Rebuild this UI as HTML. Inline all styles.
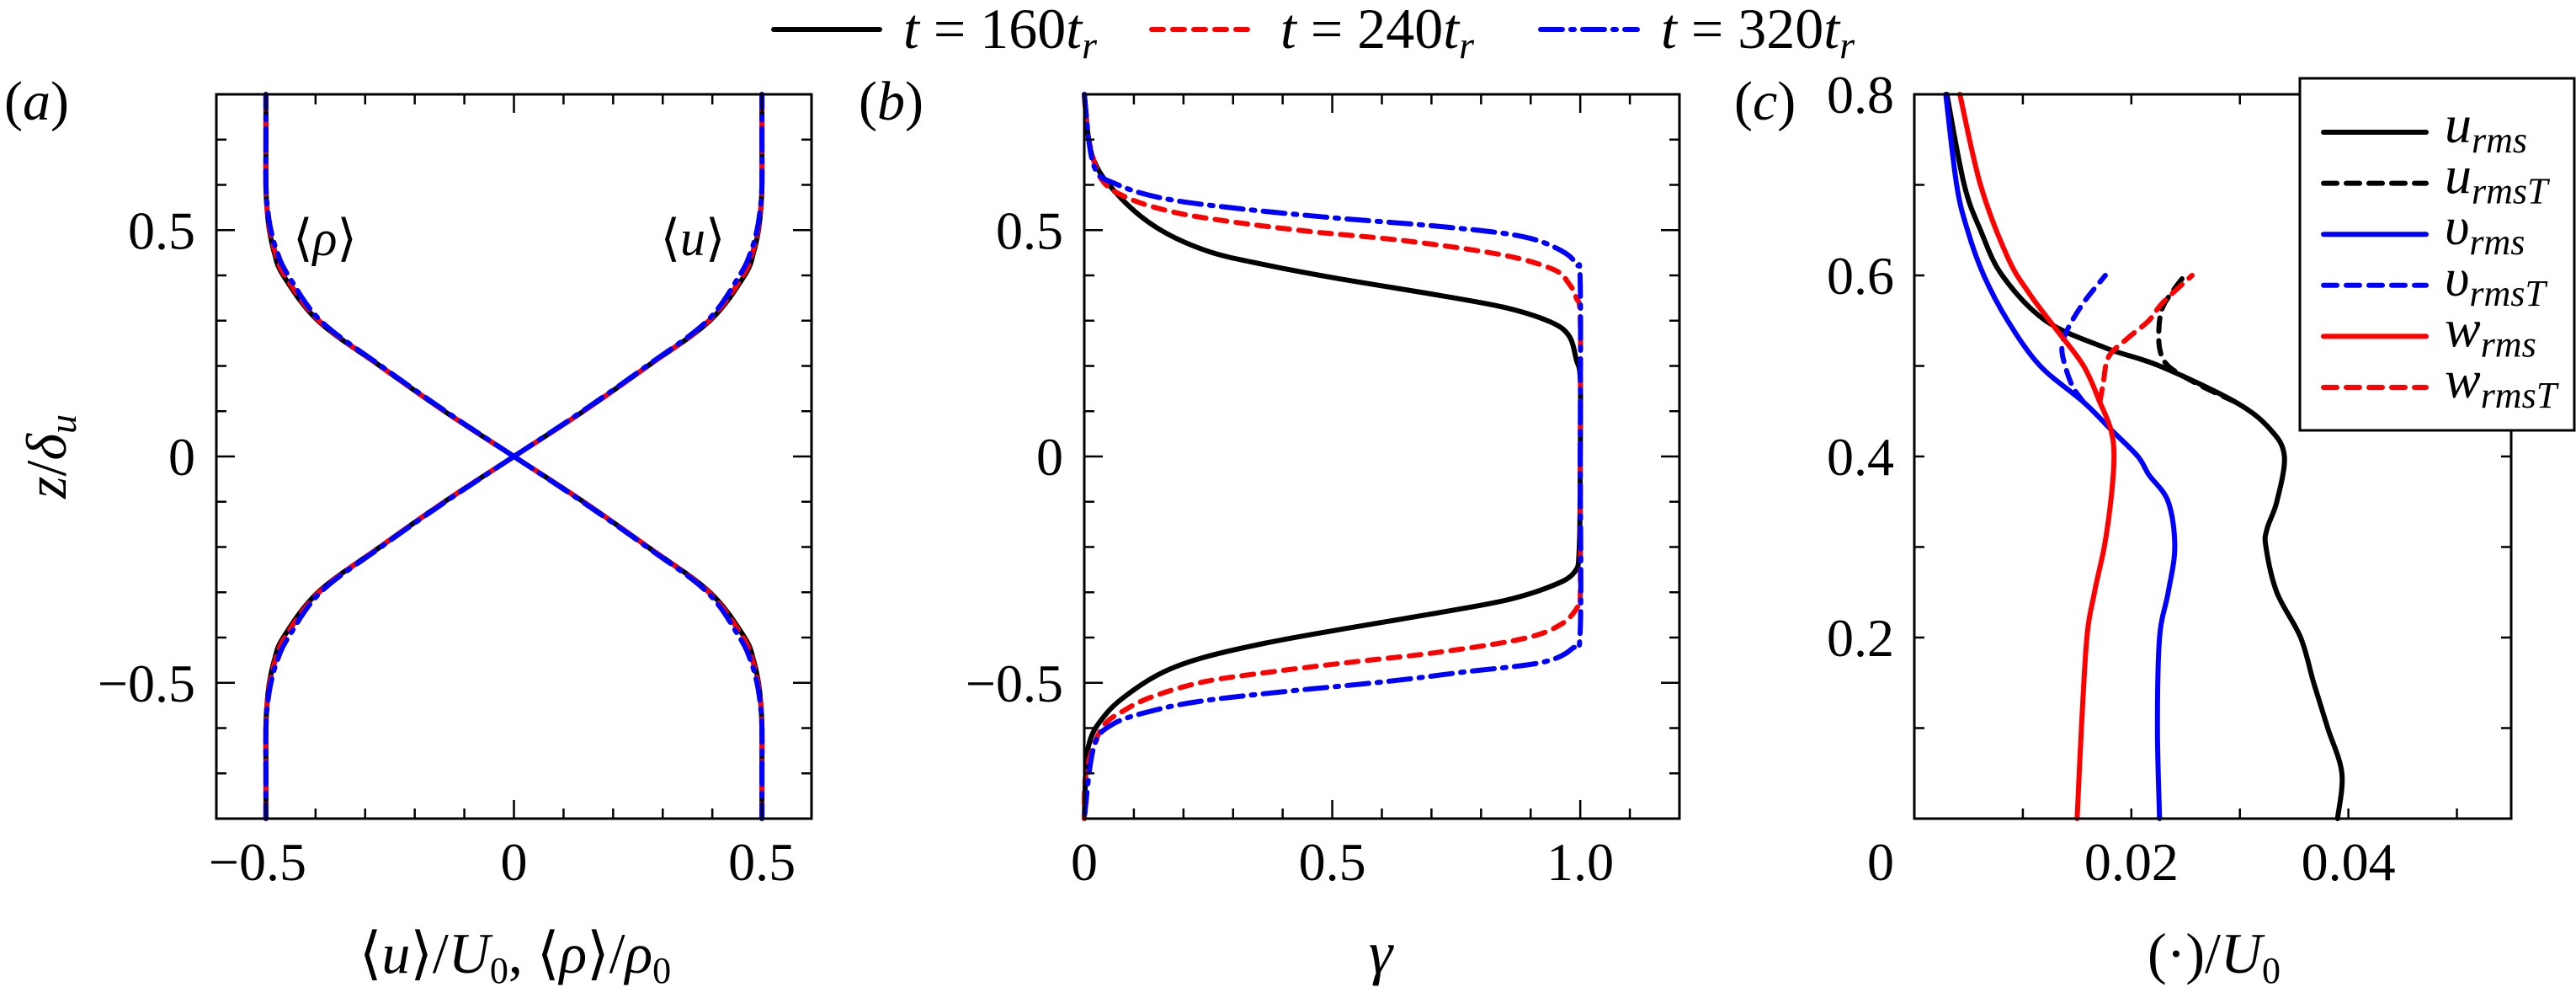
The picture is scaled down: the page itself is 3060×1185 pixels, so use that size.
<!DOCTYPE html>
<html><head><meta charset="utf-8"><style>
html,body{margin:0;padding:0;background:#fff;}
svg{display:block;}
svg text{font-family:"Liberation Serif","DejaVu Serif",serif;}
</style></head><body>
<svg id="fig" width="3060" height="1185" viewBox="0 0 3060 1185" xmlns="http://www.w3.org/2000/svg" font-family="Liberation Serif, DejaVu Serif, serif"></svg>
<script>
// ---- Panel (a) data ----
const aZ = [0,0.1,0.2,0.3,0.4,0.45,0.5,0.55,0.6,0.7,0.8];
const aU160 = [0,0.14,0.27,0.395,0.465,0.483,0.493,0.498,0.5,0.5,0.5];
const aU240 = [0,0.14,0.27,0.393,0.462,0.481,0.492,0.498,0.5,0.5,0.5];
const aU320 = [0,0.138,0.268,0.39,0.455,0.477,0.49,0.497,0.5,0.5,0.5];
// ---- Panel (b) data ----
const bZ160 = [0.8,0.664,0.58,0.507,0.455,0.424,0.392,0.361,0.33,0.298,0.267,0.214,0.17,0,-0.2,-0.256,-0.288,-0.319,-0.35,-0.382,-0.413,-0.445,-0.476,-0.518,-0.57,-0.643,-0.8];
const bG160 = [0,0.016,0.066,0.144,0.245,0.362,0.517,0.689,0.844,0.938,0.977,0.992,1,1,0.998,0.988,0.938,0.844,0.689,0.517,0.362,0.237,0.16,0.097,0.043,0.008,0];
const bZ240 = [0.8,0.706,0.612,0.57,0.539,0.518,0.497,0.476,0.445,0.413,0.382,0.35,0.3,0,-0.3,-0.33,-0.371,-0.403,-0.434,-0.455,-0.476,-0.497,-0.528,-0.56,-0.601,-0.696,-0.8];
const bG240 = [0,0.008,0.035,0.09,0.183,0.3,0.455,0.65,0.844,0.946,0.977,0.992,1,1,1,0.996,0.961,0.883,0.704,0.533,0.377,0.245,0.144,0.082,0.035,0.004,0];
const bZ320 = [0.8,0.643,0.601,0.57,0.549,0.528,0.507,0.486,0.455,0.424,0.38,0,-0.382,-0.424,-0.455,-0.476,-0.497,-0.518,-0.539,-0.56,-0.591,-0.643,-0.8];
const bG320 = [0,0.019,0.066,0.16,0.3,0.494,0.728,0.883,0.961,0.992,1,1,1,0.984,0.922,0.767,0.611,0.416,0.245,0.144,0.058,0.019,0];
// ---- Panel (c) data ----
const cZu = [0,0.05,0.1,0.15,0.2,0.25,0.3,0.32,0.35,0.4,0.43,0.46,0.5,0.52,0.55,0.6,0.65,0.7,0.8];
const cUrms = [0.039,0.0394,0.0381,0.0368,0.0356,0.0334,0.0324,0.0325,0.0334,0.0341,0.0328,0.0296,0.0226,0.0176,0.0121,0.0081,0.0061,0.0046,0.003];
const cZuT = [0.46,0.48,0.5,0.52,0.55,0.57,0.6];
const cUrmsT = [0.0296,0.0261,0.0234,0.0226,0.0226,0.0231,0.0249];
const cZv = [0,0.1,0.2,0.25,0.3,0.35,0.38,0.4,0.43,0.46,0.5,0.55,0.6,0.65,0.7,0.8];
const cVrms = [0.0226,0.0224,0.0226,0.0234,0.024,0.0234,0.0216,0.0206,0.0181,0.0156,0.0116,0.0086,0.0064,0.0049,0.0039,0.0029];
const cZvT = [0.46,0.477,0.5,0.52,0.54,0.57,0.6];
const cVrmsT = [0.0156,0.0146,0.0139,0.0136,0.0141,0.0156,0.0176];
const cZw = [0,0.1,0.2,0.25,0.3,0.35,0.4,0.43,0.46,0.5,0.54,0.58,0.62,0.7,0.8];
const cWrms = [0.015,0.0154,0.0159,0.0166,0.0175,0.0181,0.0184,0.0181,0.0171,0.0156,0.0131,0.0106,0.0086,0.0061,0.0042];
const cZwT = [0.46,0.48,0.51,0.53,0.55,0.57,0.6];
const cWrmsT = [0.0171,0.0174,0.0179,0.0196,0.0216,0.0229,0.0256];
// tick labels
const aXTicks = [-0.5,0,0.5], aXLabels = ["\u22120.5","0","0.5"];
const aYTicks = [-0.5,0,0.5], aYLabels = ["\u22120.5","0","0.5"];
const bXTicks = [0,0.5,1.0], bXLabels = ["0","0.5","1.0"];
const cXTicks = [0.02,0.04], cXLabels = ["0.02","0.04"];
const cYTicks = [0.2,0.4,0.6,0.8], cYLabels = ["0.2","0.4","0.6","0.8"];

const NS="http://www.w3.org/2000/svg";
const FONT='"Liberation Serif", "DejaVu Serif", serif';
const svg=document.getElementById('fig');
function mk(tag,attrs,parent){const e=document.createElementNS(NS,tag);for(const k in attrs)e.setAttribute(k,attrs[k]);(parent||svg).appendChild(e);return e;}
const TOP=112,BOT=972;
function axes(x0,x1,xmin,xmax,ymin,ymax){
  return {sx:v=>x0+(v-xmin)/(xmax-xmin)*(x1-x0), sy:v=>BOT-(v-ymin)/(ymax-ymin)*(BOT-TOP), x0,x1};
}
function smoothPath(pts){
  let d=`M${pts[0][0].toFixed(1)},${pts[0][1].toFixed(1)}`;
  for(let i=0;i<pts.length-1;i++){
    const p0=pts[Math.max(0,i-1)],p1=pts[i],p2=pts[i+1],p3=pts[Math.min(pts.length-1,i+2)];
    const c1=[p1[0]+(p2[0]-p0[0])/6,p1[1]+(p2[1]-p0[1])/6];
    const c2=[p2[0]-(p3[0]-p1[0])/6,p2[1]-(p3[1]-p1[1])/6];
    d+=` C${c1[0].toFixed(1)},${c1[1].toFixed(1)} ${c2[0].toFixed(1)},${c2[1].toFixed(1)} ${p2[0].toFixed(1)},${p2[1].toFixed(1)}`;
  }
  return d;
}
const STY={
  black:{stroke:'#000',dash:'none'},
  red:{stroke:'#ff0000',dash:'14 11'},
  blue:{stroke:'#0000ff',dash:'26 10 4 10'},
  blackD:{stroke:'#000',dash:'16 11'},
  blueD:{stroke:'#0000ff',dash:'16 11'},
  redD:{stroke:'#ff0000',dash:'16 11'}
};
function line(ax,xs,ys,sty,name){
  const pts=xs.map((x,i)=>[ax.sx(x),ax.sy(ys[i])]);
  const p=mk('path',{d:smoothPath(pts),fill:'none',stroke:sty.stroke,'stroke-width':6,'stroke-dasharray':sty.dash,'stroke-linecap':'round','stroke-linejoin':'round'});
  
  
  return p;
}
function frame(ax,name,xmin,xmax,xstep,xmaj,ymin,ymax,ystep,ymaj){
  const g=mk('g',{});
  
  
  for(let v=xmin;v<=xmax+1e-9;v+=xstep){
    const x=ax.sx(v); if(x<=ax.x0+1||x>=ax.x1-1)continue;
    const L=xmaj(v)?22:12;
    mk('line',{x1:x,y1:BOT,x2:x,y2:BOT-L,stroke:'#000','stroke-width':2.5},g);
    mk('line',{x1:x,y1:TOP,x2:x,y2:TOP+L,stroke:'#000','stroke-width':2.5},g);
  }
  for(let v=ymin;v<=ymax+1e-9;v+=ystep){
    const y=ax.sy(v); if(y<=TOP+1||y>=BOT-1)continue;
    const L=ymaj(v)?22:12;
    mk('line',{x1:ax.x0,y1:y,x2:ax.x0+L,y2:y,stroke:'#000','stroke-width':2.5},g);
    mk('line',{x1:ax.x1,y1:y,x2:ax.x1-L,y2:y,stroke:'#000','stroke-width':2.5},g);
  }
  mk('rect',{x:ax.x0,y:TOP,width:ax.x1-ax.x0,height:BOT-TOP,fill:'none',stroke:'#000','stroke-width':3},g);
}
function txt(x,y,s,anchor,size,name,extra){
  const t=mk('text',Object.assign({x,y,'text-anchor':anchor||'middle','font-size':size||62,'font-family':FONT},extra||{}));
  t.innerHTML=s;
  
  
  return t;
}
const near=(v,m)=>Math.abs(v/m-Math.round(v/m))<1e-6;

// Panel A
const A=axes(257,964,-0.6,0.6,-0.8,0.8);
line(A,aU160,aZ,STY.black,'u-mean-160-upper');line(A,aU160.map(v=>-v),aZ.map(v=>-v),STY.black,'u-mean-160-lower');
line(A,aU160.map(v=>-v),aZ,STY.black,'rho-mean-160-upper');line(A,aU160,aZ.map(v=>-v),STY.black,'rho-mean-160-lower');
line(A,aU240,aZ,STY.red,'u-mean-240-upper');line(A,aU240.map(v=>-v),aZ.map(v=>-v),STY.red,'u-mean-240-lower');
line(A,aU240.map(v=>-v),aZ,STY.red,'rho-mean-240-upper');line(A,aU240,aZ.map(v=>-v),STY.red,'rho-mean-240-lower');
line(A,aU320,aZ,STY.blue,'u-mean-320-upper');line(A,aU320.map(v=>-v),aZ.map(v=>-v),STY.blue,'u-mean-320-lower');
line(A,aU320.map(v=>-v),aZ,STY.blue,'rho-mean-320-upper');line(A,aU320,aZ.map(v=>-v),STY.blue,'rho-mean-320-lower');
frame(A,'panel-a-axes',-0.6,0.6,0.1,v=>near(v,0.5),-0.8,0.8,0.1,v=>near(v,0.5));
aXTicks.forEach((v,i)=>txt(A.sx(v)-(v<0?10:0),1045,aXLabels[i],'middle',64,'panel-a-x-tick'));
aYTicks.forEach((v,i)=>txt(232,A.sy(v)+22,aYLabels[i],'end',64,'panel-a-y-tick'));
txt(386,303,'\u27E8<tspan font-style="italic">ρ</tspan>\u27E9','middle',60,'rho-annotation');
txt(823,303,'\u27E8<tspan font-style="italic">u</tspan>\u27E9','middle',60,'u-annotation');
txt(612,1155,'\u27E8<tspan font-style="italic">u</tspan>\u27E9/<tspan font-style="italic">U</tspan><tspan font-size="44" dy="12">0</tspan><tspan dy="-12">, \u27E8</tspan><tspan font-style="italic">ρ</tspan>\u27E9/<tspan font-style="italic">ρ</tspan><tspan font-size="44" dy="12">0</tspan>','middle',68,'panel-a-x-label');
txt(0,0,'<tspan font-style="italic">z</tspan>/<tspan font-style="italic">δ</tspan><tspan font-style="italic" font-size="46" dy="12">u</tspan>','middle',68,'panel-a-y-label',{transform:'translate(78,542) rotate(-90)'});
txt(5,142,'(<tspan font-style="italic">a</tspan>)','start',66,'panel-a-label');

// Panel B
const B=axes(1288,1995,0,1.2,-0.8,0.8);
line(B,bG160,bZ160,STY.black,'gamma-160');
line(B,bG240,bZ240,STY.red,'gamma-240');
line(B,bG320,bZ320,STY.blue,'gamma-320');
frame(B,'panel-b-axes',0,1.2,0.1,v=>near(v,0.5),-0.8,0.8,0.1,v=>near(v,0.5));
bXTicks.forEach((v,i)=>txt(B.sx(v),1045,bXLabels[i],'middle',64,'panel-b-x-tick'));
aYTicks.forEach((v,i)=>txt(1263,B.sy(v)+22,aYLabels[i],'end',64,'panel-b-y-tick'));
txt(1640,1155,'<tspan font-style="italic">γ</tspan>','middle',72,'panel-b-x-label');
txt(1020,142,'(<tspan font-style="italic">b</tspan>)','start',66,'panel-b-label');

// Panel C
const C=axes(2274,2983,0,0.055,0,0.8);
line(C,cUrms,cZu,STY.black,'u-rms');
line(C,cUrmsT,cZuT,STY.blackD,'u-rms-t');
line(C,cVrms,cZv,{stroke:'#0000ff',dash:'none'},'v-rms');
line(C,cVrmsT,cZvT,STY.blueD,'v-rms-t');
line(C,cWrms,cZw,{stroke:'#ff0000',dash:'none'},'w-rms');
line(C,cWrmsT,cZwT,STY.redD,'w-rms-t');
frame(C,'panel-c-axes',0,0.055,0.01,v=>false,0,0.8,0.1,v=>false);
txt(2234,1045,'0','middle',64,'panel-c-x-tick');
cXTicks.forEach((v,i)=>txt(C.sx(v),1045,cXLabels[i],'middle',64,'panel-c-x-tick'));
cYTicks.forEach((v,i)=>txt(2250,C.sy(v)+22,cYLabels[i],'end',64,'panel-c-y-tick'));
txt(2630,1155,'(·)/<tspan font-style="italic">U</tspan><tspan font-size="44" dy="12">0</tspan>','middle',68,'panel-c-x-label');
txt(2060,142,'(<tspan font-style="italic">c</tspan>)','start',66,'panel-c-label');

// Panel C legend
const lg=mk('g',{});


mk('rect',{x:2732,y:93,width:326,height:418,fill:'#fff',stroke:'#000','stroke-width':3},lg);
const legNames=['u','u','v','v','w','w'];
const legSubs=['rms','rmsT','rms','rmsT','rms','rmsT'];
const legSty=[{stroke:'#000',dash:'none'},STY.blackD,{stroke:'#0000ff',dash:'none'},STY.blueD,{stroke:'#ff0000',dash:'none'},STY.redD];
legNames.forEach((n,i)=>{
  const y=157+i*60.6;
  const l=mk('line',{x1:2760,y1:y,x2:2882,y2:y,stroke:legSty[i].stroke,'stroke-width':6,'stroke-dasharray':legSty[i].dash,'stroke-linecap':'round'},lg);
  
  
  const t=txt(2904,y+12,`<tspan font-style="italic">${n==='v'?'υ':n}</tspan><tspan font-style="italic" font-size="44" dy="12">${legSubs[i]}</tspan>`,'start',64,'legend-entry');
  lg.appendChild(t);
});

// Top legend
const tl=mk('g',{});


const tlX=[919,1368,1830], tlLen=[126,125,115], tlText=['160','240','320'];
const tlSty=[STY.black,STY.red,STY.blue];
tlX.forEach((x,i)=>{
  const l=mk('line',{x1:x,y1:35,x2:x+tlLen[i],y2:35,stroke:tlSty[i].stroke,'stroke-width':6,'stroke-dasharray':tlSty[i].dash,'stroke-linecap':'round'},tl);
  
  
  const t=txt(x+tlLen[i]+28,57,`<tspan font-style="italic">t</tspan> = ${tlText[i]}<tspan font-style="italic">t</tspan><tspan font-style="italic" font-size="46" dy="12">r</tspan>`,'start',68,'time-legend-entry');
  tl.appendChild(t);
});
</script>
</body></html>
